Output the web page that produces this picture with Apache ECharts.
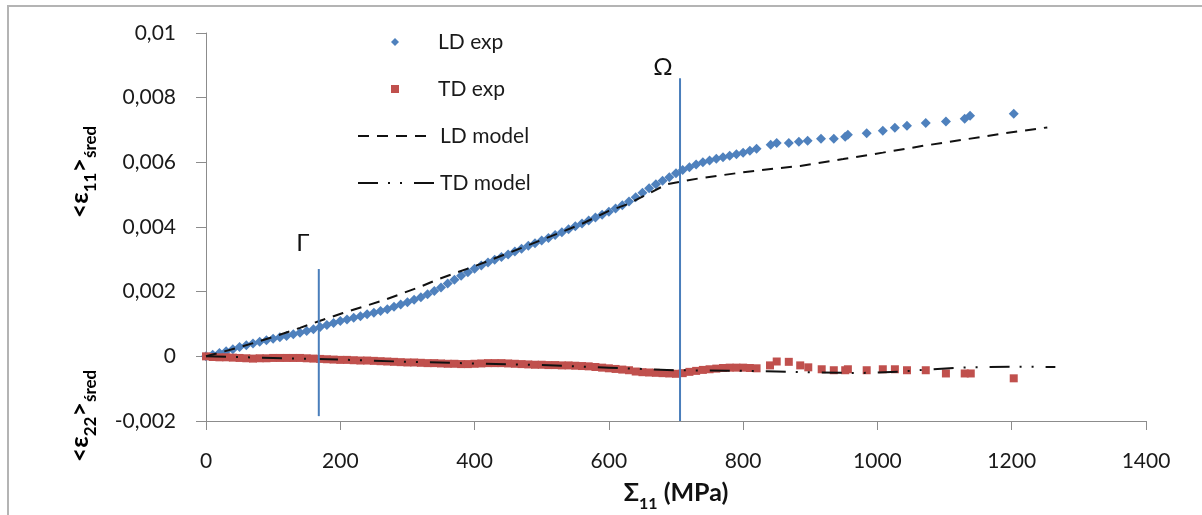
<!DOCTYPE html>
<html>
<head>
<meta charset="utf-8">
<title>LD / TD</title>
<script src="https://cdn.jsdelivr.net/npm/echarts@6/dist/echarts.min.js"></script>
<style>
    html, body { margin: 0; padding: 0; background: #fff; }
    #chart1 { width: 1202px; height: 515px; }
</style>
</head>
<body>
<div id="chart1"></div>
<script>
// 数据：[Σ11 (MPa), 应变]
var ldExp = [
    [0, 0], [10, 0.00005], [20, 0.0001], [30, 0.00016], [40, 0.00022], [50, 0.00029],
    [60, 0.00034], [70, 0.0004], [80, 0.00045], [90, 0.0005], [100, 0.00054],
    [110, 0.00059], [120, 0.00063], [130, 0.00068], [140, 0.00073], [150, 0.00078],
    [160, 0.00084], [170, 0.00091], [180, 0.00097], [190, 0.00103], [200, 0.00109],
    [210, 0.00114], [220, 0.00119], [230, 0.00124], [240, 0.0013], [250, 0.00135],
    [260, 0.0014], [270, 0.00146], [280, 0.00153], [290, 0.0016], [300, 0.00167],
    [310, 0.00175], [320, 0.00183], [330, 0.00192], [340, 0.00202], [350, 0.00213],
    [360, 0.00225], [370, 0.00237], [380, 0.00249], [390, 0.0026], [400, 0.00271],
    [410, 0.00281], [420, 0.0029], [430, 0.00299], [440, 0.00307], [450, 0.00315],
    [460, 0.00324], [470, 0.00333], [480, 0.00342], [490, 0.0035], [500, 0.00358],
    [510, 0.00366], [520, 0.00375], [530, 0.00384], [540, 0.00393], [550, 0.00402],
    [560, 0.00411], [570, 0.0042], [580, 0.00429], [590, 0.00438], [600, 0.00447],
    [610, 0.00457], [620, 0.00467], [630, 0.00479], [640, 0.00492], [650, 0.00506],
    [660, 0.0052], [670, 0.00532], [680, 0.00543], [690, 0.00554], [700, 0.00566],
    [710, 0.00576], [720, 0.00585], [730, 0.00593], [740, 0.006], [750, 0.00606],
    [760, 0.00611], [770, 0.00616], [780, 0.0062], [790, 0.00625], [800, 0.0063],
    [810, 0.00636], [820, 0.00642],
    [841, 0.00654], [850, 0.0066], [868, 0.0066], [883, 0.00664], [896, 0.00667],
    [916, 0.00673], [935, 0.00673], [952, 0.00679], [956, 0.00685], [984, 0.0069],
    [1008, 0.00698], [1026, 0.00707], [1044, 0.00713], [1072, 0.00722], [1102, 0.00726],
    [1130, 0.00735], [1138, 0.00744], [1203, 0.0075]
];
var tdExp = [
    [0, 0], [10, -0.00002], [20, -0.00003], [30, -0.00003], [40, -0.00004], [50, -0.00005],
    [60, -0.00006], [70, -0.00007], [80, -0.00006], [90, -0.00006], [100, -0.00005],
    [110, -0.00005], [120, -0.00005], [130, -0.00005], [140, -0.00005], [150, -0.00006],
    [160, -0.00007], [170, -0.00008], [180, -0.00009], [190, -0.0001], [200, -0.00011],
    [210, -0.00011], [220, -0.00012], [230, -0.00013], [240, -0.00013], [250, -0.00014],
    [260, -0.00015], [270, -0.00016], [280, -0.00017], [290, -0.00018], [300, -0.00019],
    [310, -0.00019], [320, -0.0002], [330, -0.00021], [340, -0.00021], [350, -0.00022],
    [360, -0.00023], [370, -0.00023], [380, -0.00024], [390, -0.00024], [400, -0.00023],
    [410, -0.00022], [420, -0.00021], [430, -0.00021], [440, -0.00021], [450, -0.00022],
    [460, -0.00023], [470, -0.00024], [480, -0.00025], [490, -0.00026], [500, -0.00026],
    [510, -0.00027], [520, -0.00027], [530, -0.00028], [540, -0.00028], [550, -0.00029],
    [560, -0.0003], [570, -0.00031], [580, -0.00033], [590, -0.00035], [600, -0.00037],
    [610, -0.00039], [620, -0.00041], [630, -0.00043], [640, -0.00047], [650, -0.00049],
    [660, -0.0005], [670, -0.00051], [680, -0.00052], [690, -0.00053], [700, -0.00054],
    [710, -0.00052], [720, -0.00048], [730, -0.00045], [740, -0.00042], [750, -0.0004],
    [760, -0.00038], [770, -0.00036], [780, -0.00035], [790, -0.00035], [800, -0.00035],
    [810, -0.00036], [820, -0.00037],
    [840, -0.00028], [850, -0.00016], [868, -0.00017], [885, -0.00028], [897, -0.00034],
    [917, -0.0004], [935, -0.00043], [952, -0.00043], [956, -0.0004], [984, -0.00043],
    [1008, -0.0004], [1026, -0.0004], [1044, -0.00043], [1072, -0.00043], [1102, -0.00053],
    [1130, -0.00053], [1139, -0.00053], [1203, -0.00068]
];
var ldModel = [
    [0, 0], [50, 0.00028], [100, 0.0006], [140, 0.00088], [170, 0.0011], [204, 0.00134],
    [264, 0.00173], [319, 0.00215], [344, 0.00237], [408, 0.00285], [500, 0.0036],
    [560, 0.0041], [600, 0.0045], [627, 0.0047], [656, 0.005], [686, 0.00532],
    [706, 0.0054], [736, 0.00551], [810, 0.00572], [885, 0.00589], [949, 0.0061],
    [1008, 0.0063], [1068, 0.00651], [1128, 0.0067], [1187, 0.00689], [1253, 0.00708]
];
var tdModel = [
    [0, 0], [100, -0.00005], [200, -0.0001], [300, -0.00017], [400, -0.00022],
    [500, -0.00027], [600, -0.00035], [700, -0.00043], [800, -0.00045], [850, -0.00047],
    [890, -0.00049], [970, -0.00052], [1035, -0.00047], [1080, -0.0004], [1135, -0.00034],
    [1215, -0.00032], [1265, -0.00033]
];
// 两条竖线 Γ 和 Ω
var gammaLine = [[168, -0.00185], [168, 0.0027]];
var omegaLine = [[706, -0.002], [706, 0.0086]];
var expNames = ['LD exp', 'TD exp'];
var modelNames = ['LD model', 'TD model'];

var myChart1 = echarts.init(document.getElementById('chart1'));

function markLineData(points, text, offset) {
    return points.map(function (p, i) {
        if (i < points.length - 1) return p;
        return {
            value: p,
            label: {
                show: true,
                formatter: text,
                position: 'top',
                offset: offset,
                fontSize: 24,
                color: '#111',
                fontFamily: 'Lato'
            }
        };
    });
}

var fontName = 'Lato';
var axisColor = '#8c8c8c';

var richName = {
    n: { fontSize: 25, fontWeight: 'bold', fontFamily: fontName, color: '#111', lineHeight: 32, verticalAlign: 'bottom' },
    s: { fontSize: 17, fontWeight: 'bold', fontFamily: fontName, color: '#111', lineHeight: 32, verticalAlign: 'bottom', padding: [0, 0, -7, 0] }
};

var option = {
    animation: false,
    backgroundColor: '#fff',
    textStyle: { fontFamily: fontName },
    grid: { left: 206, right: 56, top: 33, bottom: 94, outerBoundsMode: 'none', containLabel: false },
    legend: [
        {
            orient: 'vertical',
            left: 386,
            top: 25,
            itemWidth: 8,
            itemHeight: 8,
            itemGap: 23,
            selectedMode: false,
            data: expNames,
            textStyle: { fontSize: 21, color: '#1a1a1a', lineHeight: 24, fontFamily: fontName, padding: [0, 0, 0, 34] }
        },
        {
            orient: 'vertical',
            left: 352,
            top: 119,
            itemWidth: 76,
            itemHeight: 8,
            itemGap: 23,
            selectedMode: false,
            itemStyle: { opacity: 0 },
            data: modelNames,
            textStyle: { fontSize: 21, color: '#1a1a1a', lineHeight: 24, fontFamily: fontName, padding: [0, 0, 0, 1] }
        }
    ],
    graphic: [
        {
            type: 'rect',
            shape: { x: 8, y: 6, width: 1300, height: 600 },
            style: { fill: null, stroke: '#b4b4b4', lineWidth: 2 },
            silent: true
        },
        {
            type: 'text',
            x: 76, y: 172,
            rotation: Math.PI / 2,
            style: { text: '{n|<ε}{s|11}{n|>}{s|śred}', align: 'center', verticalAlign: 'middle', rich: richName }
        },
        {
            type: 'text',
            x: 76, y: 416,
            rotation: Math.PI / 2,
            style: { text: '{n|<ε}{s|22}{n|>}{s|śred}', align: 'center', verticalAlign: 'middle', rich: richName }
        }
    ],
    xAxis: {
        type: 'value',
        min: 0,
        max: 1400,
        interval: 200,
        name: '{b|Σ}{s|11}{b| (MPa)}',
        nameLocation: 'middle',
        nameGap: 52,
        nameTextStyle: {
            rich: {
                b: { fontSize: 25, fontWeight: 'bold', color: '#111', fontFamily: fontName, lineHeight: 32, verticalAlign: 'bottom' },
                s: { fontSize: 16, fontWeight: 'bold', color: '#111', fontFamily: fontName, lineHeight: 32, verticalAlign: 'bottom', padding: [0, 0, -7, 0] }
            }
        },
        splitLine: { show: false },
        axisLine: { onZero: false, lineStyle: { color: axisColor, width: 1 } },
        axisTick: { length: 9, lineStyle: { color: axisColor } },
        axisLabel: {
            margin: 30, fontSize: 21, color: '#1a1a1a', fontFamily: fontName,
            formatter: function (v) { return String(v); }
        }
    },
    yAxis: {
        type: 'value',
        min: -0.002,
        max: 0.01,
        interval: 0.002,
        splitLine: { show: false },
        axisLine: { show: true, onZero: false, lineStyle: { color: axisColor, width: 1 } },
        axisTick: { show: true, length: 10, lineStyle: { color: axisColor } },
        axisLabel: {
            margin: 30,
            fontSize: 21,
            color: '#1a1a1a',
            fontFamily: fontName,
            formatter: function (v) {
                return String(Number(v.toFixed(3))).replace('.', ',');
            }
        }
    },
    series: [
        {
            name: 'LD exp',
            type: 'scatter',
            symbol: 'diamond',
            symbolSize: 10,
            itemStyle: { color: '#4f81bd', opacity: 1 },
            data: ldExp
        },
        {
            name: 'TD exp',
            type: 'scatter',
            symbol: 'rect',
            symbolSize: 8,
            itemStyle: { color: '#c0504d', opacity: 1 },
            data: tdExp
        },
        {
            name: 'LD model',
            type: 'line',
            showSymbol: false,
            symbol: 'none',
            lineStyle: { color: '#111', width: 2, type: [11, 8] },
            itemStyle: { color: '#111' },
            data: ldModel
        },
        {
            name: 'TD model',
            type: 'line',
            showSymbol: false,
            symbol: 'none',
            lineStyle: { color: '#111', width: 2, type: [20, 10, 2, 10, 2, 12] },
            itemStyle: { color: '#111' },
            data: tdModel
        },
        {
            name: 'Gamma',
            type: 'line',
            symbol: 'circle',
            symbolSize: 0,
            showSymbol: true,
            lineStyle: { color: '#4a7ebb', width: 2 },
            itemStyle: { color: '#4a7ebb' },
            z: 5,
            data: markLineData(gammaLine, 'Γ', [-16, -9])
        },
        {
            name: 'Omega',
            type: 'line',
            symbol: 'circle',
            symbolSize: 0,
            showSymbol: true,
            lineStyle: { color: '#4a7ebb', width: 2 },
            itemStyle: { color: '#4a7ebb' },
            z: 5,
            data: markLineData(omegaLine, 'Ω', [-17, 6])
        }
    ]
};

myChart1.setOption(option);
</script>
</body>
</html>
